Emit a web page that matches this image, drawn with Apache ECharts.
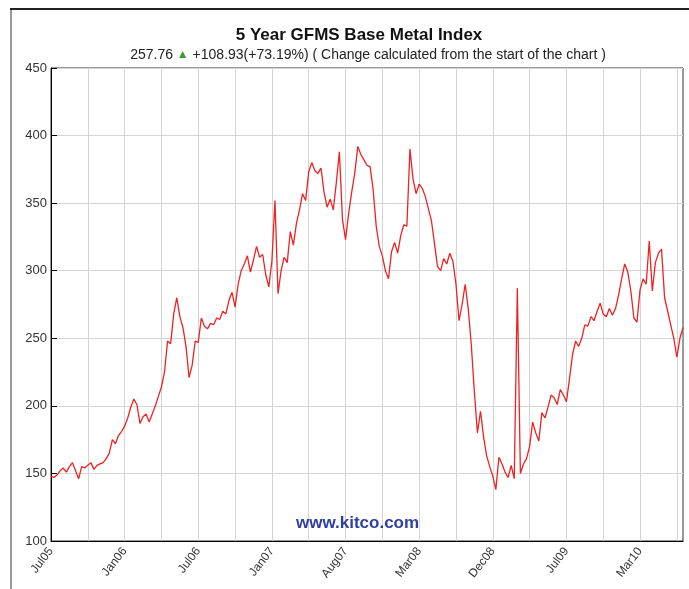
<!DOCTYPE html>
<html>
<head>
  <meta charset="utf-8">
  <style>
    body { margin: 0; background: #fff; }
    #container { width: 689px; height: 589px; }
  </style>
</head>
<body>
  <div id="container"></div>
  <script src="https://cdn.jsdelivr.net/npm/echarts@6/dist/echarts.min.js"></script>
  <script>
    // x tick labels, one every 24 points
    var tickLabels = ['Jul05', 'Jan06', 'Jul06', 'Jan07', 'Aug07', 'Mar08', 'Dec08', 'Jul09', 'Mar10']
    var yTicks = [100, 150, 200, 250, 300, 350, 400, 450]

    // index values
    var values = [
      148, 147, 149, 152, 154, 151, 155, 158, 152, 146,
      155, 154, 156, 158, 153, 156, 157, 158, 161, 165,
      175, 172, 178, 181, 185, 191, 199, 205, 201, 187,
      192, 194, 188, 194, 200, 207, 214, 225, 248, 246,
      268, 280, 266, 258, 244, 221, 230, 248, 247, 265,
      259, 257, 261, 260, 265, 264, 270, 268, 278, 284,
      273, 290, 300, 305, 311, 299, 308, 318, 310, 312,
      297, 288, 307, 352, 283, 300, 310, 306, 329, 319,
      335, 345, 357, 352, 373, 380, 374, 372, 376, 358,
      347, 353, 345, 365, 388, 338, 323, 342, 358, 372,
      392, 386, 382, 378, 377, 360, 333, 318, 311, 300,
      294, 314, 321, 313, 326, 334, 333, 390, 368, 357,
      364, 361, 355, 346, 337, 320, 303, 300, 309, 305,
      313, 307, 290, 263, 275, 290, 272, 245, 210, 180,
      196, 177, 163, 155, 148, 138, 162, 157, 151, 147,
      156, 146, 287, 150, 157, 161, 170, 188, 180, 174,
      195, 191, 199, 208, 206, 201, 212, 208, 203, 220,
      238, 248, 244, 250, 260, 259, 266, 263, 270, 276,
      268, 266, 272, 267, 272, 282, 294, 305, 299, 285,
      265, 262, 286, 294, 290, 322, 285, 306, 313, 316,
      280, 270, 260, 250, 236, 250, 258
    ]

    var categories = values.map(function (v, i) { return String(i) })

    var font = "'Liberation Sans', Arial, sans-serif"

    var myChart = echarts.init(document.getElementById('container'), null, { renderer: 'canvas' })

    var option = {
      backgroundColor: '#fff',
      animation: false,
      title: [{
        text: '5 Year GFMS Base Metal Index',
        left: 354,
        top: 22,
        textAlign: 'center',
        textStyle: { fontFamily: font, fontSize: 17, fontWeight: 'bold', color: '#111' }
      }, {
        text: '{n|257.76 }{up|▲}{n| +108.93(+73.19%) ( Change calculated from the start of the chart )}',
        left: 363,
        top: 43,
        textAlign: 'center',
        textStyle: {
          fontWeight: 'normal',
          rich: {
            n: { fontFamily: font, fontSize: 14, fontWeight: 'normal', color: '#222' },
            up: { fontSize: 12, fontWeight: 'normal', color: '#3a9a3a' }
          }
        }
      }],
      grid: {
        left: 51, right: 6, top: 68, bottom: 48,
        show: true, borderColor: '#333', borderWidth: 1
      },
      xAxis: {
        type: 'category',
        data: categories,
        boundaryGap: false,
        axisLine: { lineStyle: { color: '#000' } },
        axisTick: { show: false },
        axisLabel: {
          interval: 23,
          rotate: 52,
          margin: 8,
          fontFamily: font,
          fontSize: 12,
          color: '#333',
          formatter: function (v) { return tickLabels[Number(v) / 24] || '' }
        },
        splitLine: { show: true, interval: 11, lineStyle: { color: '#d4d4d4', width: 1 } }
      },
      yAxis: {
        type: 'value',
        min: yTicks[0],
        max: yTicks[yTicks.length - 1],
        interval: 50,
        axisLine: { show: true, lineStyle: { color: '#000' } },
        axisTick: { show: true, inside: true, length: 6, lineStyle: { color: '#000' } },
        axisLabel: { margin: 4, fontFamily: font, fontSize: 13, color: '#333' },
        splitLine: { lineStyle: { color: '#d4d4d4', width: 1 } }
      },
      series: [{
        type: 'line',
        data: values,
        showSymbol: false,
        lineStyle: { color: '#ee2222', width: 1.3 },
        z: 3
      }],
      graphic: [
        { type: 'rect', shape: { x: 10, y: 9, width: 2, height: 580 }, style: { fill: '#9a9a9a' } },
        { type: 'rect', shape: { x: 10, y: 8, width: 679, height: 2 }, style: { fill: '#222' } },
        {
          type: 'text', left: 296, top: 515,
          style: { text: 'www.kitco.com', fontFamily: font, fontSize: 17, fontWeight: 'bold', fill: '#2f3f9f' },
          z: 10
        }
      ]
    }

    myChart.setOption(option)
  </script>
</body>
</html>
